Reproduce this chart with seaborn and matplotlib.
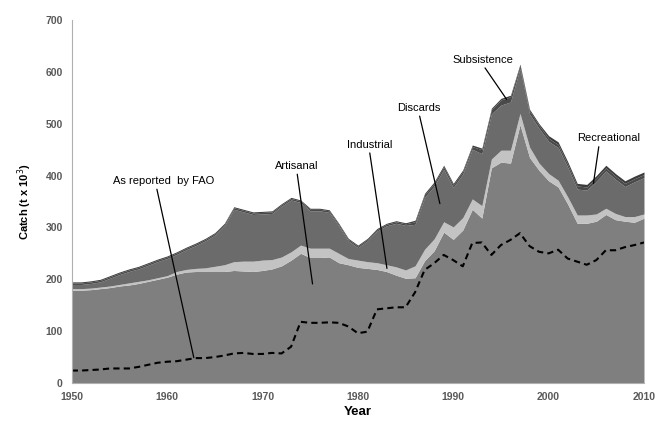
import numpy as np
import pandas as pd
import matplotlib
matplotlib.use("Agg")
import matplotlib.pyplot as plt
import seaborn as sns

years = list(range(1950, 2011))

total = [195, 195, 197, 200, 207, 214, 220, 225, 232, 239,
         245, 253, 262, 270, 279, 290, 308, 340, 335, 330,
         331, 332, 346, 358, 353, 337, 337, 334, 308, 279,
         266, 279, 298, 308, 313, 309, 314, 366, 388, 420,
         385, 411, 459, 453, 530, 549, 555, 615, 528, 500,
         477, 465, 427, 385, 383, 400, 420, 404, 390, 399,
         407]

industrial_top = [182, 182, 183, 185, 187, 190, 193, 196, 199, 203,
                  207, 215, 219, 221, 222, 225, 228, 234, 235, 235,
                  237, 238, 243, 253, 266, 260, 260, 260, 250, 240,
                  237, 234, 232, 228, 224, 218, 226, 258, 278, 311,
                  301, 319, 355, 342, 432, 449, 449, 520, 455, 424,
                  404, 391, 359, 324, 324, 326, 337, 327, 321, 321,
                  326]

artisanal = [179, 179, 180, 182, 184, 187, 189, 192, 196, 200,
             204, 210, 214, 215, 215, 215, 215, 217, 216, 215,
             217, 220, 226, 237, 250, 242, 242, 243, 232, 228,
             223, 221, 219, 215, 208, 202, 203, 236, 255, 291,
             277, 295, 335, 318, 415, 426, 424, 498, 435, 410,
             390, 378, 345, 308, 308, 312, 325, 315, 312, 310,
             318]

subsistence = [3] * 36 + [5, 5, 5, 5, 5, 5, 5, 8, 8, 10, 10, 5] + [6] * 13
recreational = [2] * 36 + [3] * 14 + [5] * 11

fao = [24, 24, 25, 26, 28, 28, 28, 31, 35, 39,
       41, 42, 45, 48, 48, 50, 53, 57, 58, 56,
       56, 58, 57, 70, 118, 116, 116, 117, 116, 109,
       96, 99, 142, 144, 146, 146, 175, 218, 231, 247,
       237, 225, 270, 271, 247, 266, 276, 289, 264, 253,
       250, 257, 240, 234, 228, 237, 256, 256, 262, 266,
       271]

industrial = [it - a for it, a in zip(industrial_top, artisanal)]
discards = [t - it - s - r for t, it, s, r in zip(total, industrial_top, subsistence, recreational)]

df = pd.DataFrame({"Year": years, "FAO": fao})

sns.set_theme(style="white")
plt.rcParams["font.family"] = ["Liberation Sans", "DejaVu Sans"]

fig = plt.figure(figsize=(6.67, 4.23), dpi=100)
ax = fig.add_axes([0.1075, 0.0946, 0.858, 0.858])

colors = ["#7f7f7f", "#c3c3c3", "#6b6b6b", "#4a4a4a", "#3c3c3c"]
ax.stackplot(years, artisanal, industrial, discards, subsistence, recreational,
             colors=colors, linewidth=0)

sns.lineplot(data=df, x="Year", y="FAO", ax=ax, color="black",
             linestyle=(0, (3, 2)), linewidth=1.5)

ax.set_xlim(1950, 2010)
ax.set_ylim(0, 700)
ax.set_xticks(range(1950, 2011, 10))
ax.set_xticks(range(1950, 2011, 5), minor=True)
ax.set_yticks(range(0, 701, 100))
ax.tick_params(axis="both", which="both", direction="out", length=3,
               color="#a0a0a0", labelsize=7.5, labelcolor="#595959", width=0.8)
for lab in ax.get_xticklabels() + ax.get_yticklabels():
    lab.set_fontweight("bold")

for side in ["top", "right"]:
    ax.spines[side].set_visible(False)
for side in ["left", "bottom"]:
    ax.spines[side].set_color("#b0b0b0")
    ax.spines[side].set_linewidth(0.8)

ax.set_xlabel("Year", fontsize=9.5, fontweight="bold", color="black", labelpad=3)
ax.set_ylabel("Catch (t x 10$^3$)", fontsize=8, fontweight="bold", color="black", labelpad=8)

annotations = [
    ("As reported  by FAO", (1962.8, 49), (1959.6, 380), 0.43),
    ("Artisanal", (1975.25, 191), (1973.6, 409), 0.5),
    ("Industrial", (1983.05, 221), (1981.2, 450), 0.5),
    ("Discards", (1988.6, 346), (1986.4, 521), 0.5),
    ("Subsistence", (1995.6, 547), (1993.1, 614), 0.5),
    ("Recreational", (2004.7, 385), (2006.3, 462), 0.35),
]
for text, xy, xytext, rx in annotations:
    ax.annotate(text, xy=xy, xytext=xytext, fontsize=8, color="black",
                ha="center", va="bottom",
                arrowprops=dict(arrowstyle="-", color="black", lw=0.9,
                                shrinkA=0, shrinkB=0,
                                relpos=(rx, 0.0)))

fig.savefig("out.png", dpi=100)
